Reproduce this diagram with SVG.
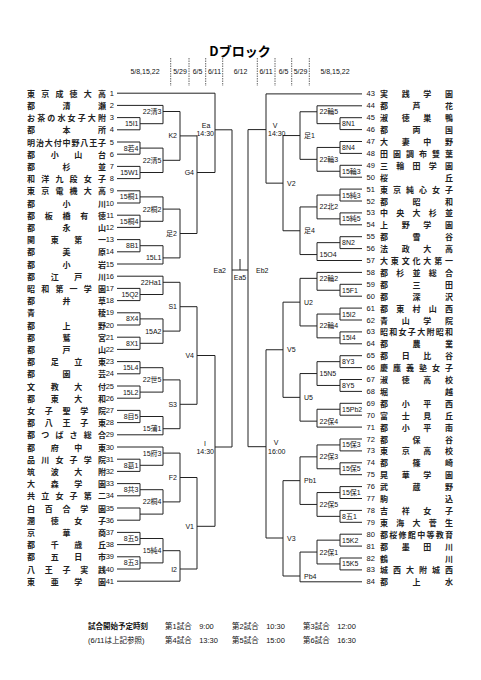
<svg xmlns="http://www.w3.org/2000/svg" width="481" height="680" viewBox="0 0 481 680">
<style>
text{dominant-baseline:central}
.nm{font-family:"Noto Sans CJK JP",sans-serif;font-size:8px;font-weight:bold;fill:#222}
.no{font-family:"Liberation Sans",Arial,sans-serif;font-size:7.5px;fill:#111}
.lb{font-family:"Liberation Sans","Noto Sans CJK JP",sans-serif;font-size:7px;fill:#111}
.ln{fill:none;stroke:#222;stroke-width:1}
.dl{fill:none;stroke:#666;stroke-width:1;stroke-dasharray:1.5 1}
.r{text-anchor:end}
.c{text-anchor:middle}
</style>
<rect width="481" height="680" fill="#fff"/>
<g id="header">
<text x="240" y="50" class="c" font-family="Noto Sans CJK JP,sans-serif" font-size="13" font-weight="bold">Dブロック</text>
<g class="lb">
<text x="145" y="71" class="c">5/8,15,22</text>
<text x="180" y="71" class="c">5/29</text>
<text x="197.5" y="71" class="c">6/5</text>
<text x="214.5" y="71" class="c">6/11</text>
<text x="240.5" y="71" class="c">6/12</text>
<text x="266" y="71" class="c">6/11</text>
<text x="283.5" y="71" class="c">6/5</text>
<text x="300.5" y="71" class="c">5/29</text>
<text x="335" y="71" class="c">5/8,15,22</text>
</g>
<path class="dl" d="M170.7 58V86M189 58V86M205.7 58V86M222.7 58V86M257.3 58V86M275 58V86M291.7 58V86M309.3 58V86"/>
</g>
<g id="connectors" class="ln">
<path d="M117 93.2H215M117 105.4H163M117 117.6H140V129.8H117M140 123.7H163M163 105.4V123.7M163 111.5H180"/>
<path d="M117 142H140V154.2H117M140 148.1H163M117 166.4H140V178.6H117M140 172.5H163M163 148.1V172.5M163 160.3H180M180 111.5V160.3M180 135.9H197"/>
<path d="M117 190.8H140V203H117M140 196.9H163M117 215.2H140V227.4H117M140 221.3H163M163 196.9V221.3M163 209.1H180"/>
<path d="M117 239.6H140V251.8H117M140 245.7H163M117 264H163M163 245.7V264M163 257.9H180M180 209.1V257.9M180 233.5H197M197 135.9V233.5M197 172.5H215M215 93.2V172.5M215 129.8H232"/>
<path d="M117 276.2H163M117 288.4H140V300.6H117M140 294.5H163M163 276.2V294.5M163 282.3H180"/>
<path d="M117 312.8H140V325H117M140 318.9H163M117 337.2H140V349.4H117M140 343.3H163M163 318.9V343.3M163 331.1H180M180 282.3V331.1M180 306.7H197"/>
<path d="M117 361.6H140V373.8H117M140 367.7H163M117 386H140V398.2H117M140 392.1H163M163 367.7V392.1M163 379.9H180"/>
<path d="M117 410.4H140V422.6H117M140 416.5H163M117 434.8H163M163 416.5V434.8M163 428.7H180M180 379.9V428.7M180 404.3H197M197 306.7V404.3M197 355.5H215"/>
<path d="M117 447H163M117 459.2H140V471.4H117M140 465.3H163M163 447V465.3M163 453.1H180"/>
<path d="M117 483.6H140V495.8H117M140 489.7H163M117 508H140V520.2H117M140 514.1H163M163 489.7V514.1M163 501.9H180M180 453.1V501.9M180 477.5H197"/>
<path d="M117 532.4H140V544.6H117M140 538.5H163M117 556.8H140V569H117M140 562.9H163M163 538.5V562.9M163 550.7H180M117 581.2H180M180 550.7V581.2M180 569H197M197 477.5V569M197 526.3H215M215 355.5V526.3M215 447H232"/>
<path d="M232 129.8V447M232 270H248M240 259V270M248 129.6V446.7"/>
<path d="M362 93.9H266M362 105.8H317M362 117.7H340V129.6H362M340 123.65H317M317 105.8V123.65M317 111.75H300"/>
<path d="M362 141.5H340V153.4H362M340 147.45H317M362 165.3H340V177.2H362M340 171.25H317M317 147.45V171.25M317 159.35H300M300 111.75V159.35M300 135.55H283"/>
<path d="M362 189.1H340V201H362M340 195.05H317M362 212.9H340V224.8H362M340 218.85H317M317 195.05V218.85M317 206.95H300"/>
<path d="M362 236.7H340V248.6H362M340 242.65H317M362 260.5H317M317 242.65V260.5M317 254.55H300M300 206.95V254.55M300 230.75H283M283 135.55V230.75M283 183.15H266M266 93.9V183.15M266 129.6H248"/>
<path d="M362 272.4H317M362 284.3H340V296.2H362M340 290.25H317M317 272.4V290.25M317 278.35H300"/>
<path d="M362 308.1H340V320H362M340 314.05H317M362 331.9H340V343.8H362M340 337.85H317M317 314.05V337.85M317 325.95H300M300 278.35V325.95M300 302.15H283"/>
<path d="M362 355.7H340V367.6H362M340 361.65H317M362 379.5H340V391.4H362M340 385.45H317M317 361.65V385.45M317 373.55H300"/>
<path d="M362 403.3H340V415.2H362M340 409.25H317M362 427.1H317M317 409.25V427.1M317 421.15H300M300 373.55V421.15M300 397.35H283M283 302.15V397.35M283 349.75H266"/>
<path d="M362 439H340V450.9H362M340 444.95H317M362 462.8H340V474.7H362M340 468.75H317M317 444.95V468.75M317 456.85H300"/>
<path d="M362 486.6H340V498.5H362M340 492.55H317M362 510.4H340V522.3H362M340 516.35H317M317 492.55V516.35M317 504.45H300M300 456.85V504.45M300 480.65H283"/>
<path d="M362 534.2H340V546.1H362M340 540.15H317M362 558H340V569.9H362M340 563.95H317M317 540.15V563.95M317 552.05H300M362 581.8H300M300 552.05V581.8M300 576H283M283 480.65V576M283 538H266M266 349.75V538M266 446.7H248"/>
</g>
<g id="labels" class="lb">
<g class="r">
<text x="138.5" y="123.7">15I1</text><text x="138.5" y="148.1">8若4</text><text x="138.5" y="172.5">15W1</text><text x="138.5" y="196.9">15桐1</text><text x="138.5" y="221.3">15桐4</text><text x="138.5" y="245.7">8B1</text><text x="138.5" y="294.5">15Q2</text><text x="138.5" y="318.9">8X4</text><text x="138.5" y="343.3">8X1</text><text x="138.5" y="367.7">15L4</text><text x="138.5" y="392.1">15L2</text><text x="138.5" y="416.5">8目5</text><text x="138.5" y="465.3">8葛1</text><text x="138.5" y="489.7">8共3</text><text x="138.5" y="538.5">8五5</text><text x="138.5" y="562.9">8五3</text>
<text x="161.5" y="111.5">22清3</text><text x="161.5" y="160.3">22清5</text><text x="161.5" y="209.1">22桐2</text><text x="161.5" y="257.9">15L1</text><text x="161.5" y="282.3">22Ha1</text><text x="161.5" y="331.1">15A2</text><text x="161.5" y="379.9">22世5</text><text x="161.5" y="428.7">15蒲1</text><text x="161.5" y="453.1">15府3</text><text x="161.5" y="501.9">22桐4</text><text x="161.5" y="550.7">15純4</text>
<text x="177" y="135.9">K2</text><text x="177" y="233.5">足2</text><text x="177" y="306.7">S1</text><text x="177" y="404.3">S3</text><text x="177" y="477.5">F2</text><text x="177" y="569">I2</text>
<text x="194" y="172.5">G4</text><text x="194" y="355.5">V4</text><text x="194" y="526.3">V1</text>
<text x="214" y="133.5">14:30</text><text x="214" y="451.5">14:30</text>
<text x="226" y="270">Ea2</text>
</g>
<text x="206" y="125" class="c">Ea</text><text x="205" y="443" class="c">I</text>
<text x="240" y="277" class="c">Ea5</text>
<text x="256" y="270">Eb2</text>
<text x="275" y="125" class="c">V</text><text x="268" y="133.5">14:30</text>
<text x="276" y="442" class="c">V</text><text x="268" y="451.5">16:00</text>
<text x="287" y="183.15">V2</text><text x="287" y="349.75">V5</text><text x="287" y="538">V3</text>
<text x="304" y="135.55">足1</text><text x="304" y="230.75">足4</text><text x="304" y="302.15">U2</text><text x="304" y="397.35">U5</text><text x="304" y="480.65">Pb1</text><text x="304" y="576">Pb4</text>
<text x="319.5" y="111.75">22輪5</text><text x="319.5" y="159.35">22輪3</text><text x="319.5" y="206.95">22北2</text><text x="319.5" y="254.55">15O4</text><text x="319.5" y="278.35">22輪2</text><text x="319.5" y="325.95">22輪4</text><text x="319.5" y="373.55">15N5</text><text x="319.5" y="421.15">22保4</text><text x="319.5" y="456.85">22保3</text><text x="319.5" y="504.45">22保5</text><text x="319.5" y="552.05">22保1</text>
<text x="342" y="123.65">8N1</text><text x="342" y="147.45">8N4</text><text x="342" y="171.25">15輪3</text><text x="342" y="195.05">15純3</text><text x="342" y="218.85">15純5</text><text x="342" y="242.65">8N2</text><text x="342" y="290.25">15F1</text><text x="342" y="314.05">15I2</text><text x="342" y="337.85">15I4</text><text x="342" y="361.65">8Y3</text><text x="342" y="385.45">8Y5</text><text x="342" y="409.25">15Pb2</text><text x="342" y="444.95">15保3</text><text x="342" y="468.75">15保5</text><text x="342" y="492.55">15保1</text><text x="342" y="516.35">8五1</text><text x="342" y="540.15">15K2</text><text x="342" y="563.95">15K5</text>
</g>
<g id="left-teams">
<g id="t1"><text class="nm" x="27" y="93.2" textLength="79" lengthAdjust="spacing">東京成徳大高</text><text class="no r" x="114" y="93.2">1</text></g>
<g id="t2"><text class="nm" x="27" y="105.4" textLength="79" lengthAdjust="spacing">都清瀬</text><text class="no r" x="114" y="105.4">2</text></g>
<g id="t3"><text class="nm" x="27" y="117.6" textLength="79" lengthAdjust="spacing">お茶の水女子大附</text><text class="no r" x="114" y="117.6">3</text></g>
<g id="t4"><text class="nm" x="27" y="129.8" textLength="79" lengthAdjust="spacing">都本所</text><text class="no r" x="114" y="129.8">4</text></g>
<g id="t5"><text class="nm" x="27" y="142" textLength="79" lengthAdjust="spacing">明治大付中野八王子</text><text class="no r" x="114" y="142">5</text></g>
<g id="t6"><text class="nm" x="27" y="154.2" textLength="79" lengthAdjust="spacing">都小山台</text><text class="no r" x="114" y="154.2">6</text></g>
<g id="t7"><text class="nm" x="27" y="166.4" textLength="79" lengthAdjust="spacing">都杉並</text><text class="no r" x="114" y="166.4">7</text></g>
<g id="t8"><text class="nm" x="27" y="178.6" textLength="79" lengthAdjust="spacing">和洋九段女子</text><text class="no r" x="114" y="178.6">8</text></g>
<g id="t9"><text class="nm" x="27" y="190.8" textLength="79" lengthAdjust="spacing">東京電機大高</text><text class="no r" x="114" y="190.8">9</text></g>
<g id="t10"><text class="nm" x="27" y="203" textLength="79" lengthAdjust="spacing">都小川</text><text class="no r" x="114" y="203">10</text></g>
<g id="t11"><text class="nm" x="27" y="215.2" textLength="79" lengthAdjust="spacing">都板橋有徳</text><text class="no r" x="114" y="215.2">11</text></g>
<g id="t12"><text class="nm" x="27" y="227.4" textLength="79" lengthAdjust="spacing">都永山</text><text class="no r" x="114" y="227.4">12</text></g>
<g id="t13"><text class="nm" x="27" y="239.6" textLength="79" lengthAdjust="spacing">関東第一</text><text class="no r" x="114" y="239.6">13</text></g>
<g id="t14"><text class="nm" x="27" y="251.8" textLength="79" lengthAdjust="spacing">都美原</text><text class="no r" x="114" y="251.8">14</text></g>
<g id="t15"><text class="nm" x="27" y="264" textLength="79" lengthAdjust="spacing">都小岩</text><text class="no r" x="114" y="264">15</text></g>
<g id="t16"><text class="nm" x="27" y="276.2" textLength="79" lengthAdjust="spacing">都江戸川</text><text class="no r" x="114" y="276.2">16</text></g>
<g id="t17"><text class="nm" x="27" y="288.4" textLength="79" lengthAdjust="spacing">昭和第一学園</text><text class="no r" x="114" y="288.4">17</text></g>
<g id="t18"><text class="nm" x="27" y="300.6" textLength="79" lengthAdjust="spacing">都井草</text><text class="no r" x="114" y="300.6">18</text></g>
<g id="t19"><text class="nm" x="27" y="312.8" textLength="79" lengthAdjust="spacing">青稜</text><text class="no r" x="114" y="312.8">19</text></g>
<g id="t20"><text class="nm" x="27" y="325" textLength="79" lengthAdjust="spacing">都上野</text><text class="no r" x="114" y="325">20</text></g>
<g id="t21"><text class="nm" x="27" y="337.2" textLength="79" lengthAdjust="spacing">都鷲宮</text><text class="no r" x="114" y="337.2">21</text></g>
<g id="t22"><text class="nm" x="27" y="349.4" textLength="79" lengthAdjust="spacing">都戸山</text><text class="no r" x="114" y="349.4">22</text></g>
<g id="t23"><text class="nm" x="27" y="361.6" textLength="79" lengthAdjust="spacing">都足立東</text><text class="no r" x="114" y="361.6">23</text></g>
<g id="t24"><text class="nm" x="27" y="373.8" textLength="79" lengthAdjust="spacing">都園芸</text><text class="no r" x="114" y="373.8">24</text></g>
<g id="t25"><text class="nm" x="27" y="386" textLength="79" lengthAdjust="spacing">文教大付</text><text class="no r" x="114" y="386">25</text></g>
<g id="t26"><text class="nm" x="27" y="398.2" textLength="79" lengthAdjust="spacing">都東大和</text><text class="no r" x="114" y="398.2">26</text></g>
<g id="t27"><text class="nm" x="27" y="410.4" textLength="79" lengthAdjust="spacing">女子聖学院</text><text class="no r" x="114" y="410.4">27</text></g>
<g id="t28"><text class="nm" x="27" y="422.6" textLength="79" lengthAdjust="spacing">都八王子東</text><text class="no r" x="114" y="422.6">28</text></g>
<g id="t29"><text class="nm" x="27" y="434.8" textLength="79" lengthAdjust="spacing">都つばさ総合</text><text class="no r" x="114" y="434.8">29</text></g>
<g id="t30"><text class="nm" x="27" y="447" textLength="79" lengthAdjust="spacing">都府中東</text><text class="no r" x="114" y="447">30</text></g>
<g id="t31"><text class="nm" x="27" y="459.2" textLength="79" lengthAdjust="spacing">品川女子学院</text><text class="no r" x="114" y="459.2">31</text></g>
<g id="t32"><text class="nm" x="27" y="471.4" textLength="79" lengthAdjust="spacing">筑波大附</text><text class="no r" x="114" y="471.4">32</text></g>
<g id="t33"><text class="nm" x="27" y="483.6" textLength="79" lengthAdjust="spacing">大森学園</text><text class="no r" x="114" y="483.6">33</text></g>
<g id="t34"><text class="nm" x="27" y="495.8" textLength="79" lengthAdjust="spacing">共立女子第二</text><text class="no r" x="114" y="495.8">34</text></g>
<g id="t35"><text class="nm" x="27" y="508" textLength="79" lengthAdjust="spacing">白百合学園</text><text class="no r" x="114" y="508">35</text></g>
<g id="t36"><text class="nm" x="27" y="520.2" textLength="79" lengthAdjust="spacing">潤徳女子</text><text class="no r" x="114" y="520.2">36</text></g>
<g id="t37"><text class="nm" x="27" y="532.4" textLength="79" lengthAdjust="spacing">京華商</text><text class="no r" x="114" y="532.4">37</text></g>
<g id="t38"><text class="nm" x="27" y="544.6" textLength="79" lengthAdjust="spacing">都千歳丘</text><text class="no r" x="114" y="544.6">38</text></g>
<g id="t39"><text class="nm" x="27" y="556.8" textLength="79" lengthAdjust="spacing">都五日市</text><text class="no r" x="114" y="556.8">39</text></g>
<g id="t40"><text class="nm" x="27" y="569" textLength="79" lengthAdjust="spacing">八王子実践</text><text class="no r" x="114" y="569">40</text></g>
<g id="t41"><text class="nm" x="27" y="581.2" textLength="79" lengthAdjust="spacing">東亜学園</text><text class="no r" x="114" y="581.2">41</text></g>
</g>
<g id="right-teams">
<g id="t43"><text class="no" x="366.5" y="93.9">43</text><text class="nm" x="380" y="93.9" textLength="73" lengthAdjust="spacing">実践学園</text></g>
<g id="t44"><text class="no" x="366.5" y="105.8">44</text><text class="nm" x="380" y="105.8" textLength="73" lengthAdjust="spacing">都芦花</text></g>
<g id="t45"><text class="no" x="366.5" y="117.7">45</text><text class="nm" x="380" y="117.7" textLength="73" lengthAdjust="spacing">淑徳巣鴨</text></g>
<g id="t46"><text class="no" x="366.5" y="129.6">46</text><text class="nm" x="380" y="129.6" textLength="73" lengthAdjust="spacing">都両国</text></g>
<g id="t47"><text class="no" x="366.5" y="141.5">47</text><text class="nm" x="380" y="141.5" textLength="73" lengthAdjust="spacing">大妻中野</text></g>
<g id="t48"><text class="no" x="366.5" y="153.4">48</text><text class="nm" x="380" y="153.4" textLength="73" lengthAdjust="spacing">田園調布雙葉</text></g>
<g id="t49"><text class="no" x="366.5" y="165.3">49</text><text class="nm" x="380" y="165.3" textLength="73" lengthAdjust="spacing">三輪田学園</text></g>
<g id="t50"><text class="no" x="366.5" y="177.2">50</text><text class="nm" x="380" y="177.2" textLength="73" lengthAdjust="spacing">桜丘</text></g>
<g id="t51"><text class="no" x="366.5" y="189.1">51</text><text class="nm" x="380" y="189.1" textLength="73" lengthAdjust="spacing">東京純心女子</text></g>
<g id="t52"><text class="no" x="366.5" y="201">52</text><text class="nm" x="380" y="201" textLength="73" lengthAdjust="spacing">都昭和</text></g>
<g id="t53"><text class="no" x="366.5" y="212.9">53</text><text class="nm" x="380" y="212.9" textLength="73" lengthAdjust="spacing">中央大杉並</text></g>
<g id="t54"><text class="no" x="366.5" y="224.8">54</text><text class="nm" x="380" y="224.8" textLength="73" lengthAdjust="spacing">上野学園</text></g>
<g id="t55"><text class="no" x="366.5" y="236.7">55</text><text class="nm" x="380" y="236.7" textLength="73" lengthAdjust="spacing">都雪谷</text></g>
<g id="t56"><text class="no" x="366.5" y="248.6">56</text><text class="nm" x="380" y="248.6" textLength="73" lengthAdjust="spacing">法政大高</text></g>
<g id="t57"><text class="no" x="366.5" y="260.5">57</text><text class="nm" x="380" y="260.5" textLength="73" lengthAdjust="spacing">大東文化大第一</text></g>
<g id="t58"><text class="no" x="366.5" y="272.4">58</text><text class="nm" x="380" y="272.4" textLength="73" lengthAdjust="spacing">都杉並総合</text></g>
<g id="t59"><text class="no" x="366.5" y="284.3">59</text><text class="nm" x="380" y="284.3" textLength="73" lengthAdjust="spacing">都三田</text></g>
<g id="t60"><text class="no" x="366.5" y="296.2">60</text><text class="nm" x="380" y="296.2" textLength="73" lengthAdjust="spacing">都深沢</text></g>
<g id="t61"><text class="no" x="366.5" y="308.1">61</text><text class="nm" x="380" y="308.1" textLength="73" lengthAdjust="spacing">都東村山西</text></g>
<g id="t62"><text class="no" x="366.5" y="320">62</text><text class="nm" x="380" y="320" textLength="73" lengthAdjust="spacing">青山学院</text></g>
<g id="t63"><text class="no" x="366.5" y="331.9">63</text><text class="nm" x="380" y="331.9" textLength="73" lengthAdjust="spacing">昭和女子大附昭和</text></g>
<g id="t64"><text class="no" x="366.5" y="343.8">64</text><text class="nm" x="380" y="343.8" textLength="73" lengthAdjust="spacing">都農業</text></g>
<g id="t65"><text class="no" x="366.5" y="355.7">65</text><text class="nm" x="380" y="355.7" textLength="73" lengthAdjust="spacing">都日比谷</text></g>
<g id="t66"><text class="no" x="366.5" y="367.6">66</text><text class="nm" x="380" y="367.6" textLength="73" lengthAdjust="spacing">慶應義塾女子</text></g>
<g id="t67"><text class="no" x="366.5" y="379.5">67</text><text class="nm" x="380" y="379.5" textLength="73" lengthAdjust="spacing">淑徳高校</text></g>
<g id="t68"><text class="no" x="366.5" y="391.4">68</text><text class="nm" x="380" y="391.4" textLength="73" lengthAdjust="spacing">堀越</text></g>
<g id="t69"><text class="no" x="366.5" y="403.3">69</text><text class="nm" x="380" y="403.3" textLength="73" lengthAdjust="spacing">都小平西</text></g>
<g id="t70"><text class="no" x="366.5" y="415.2">70</text><text class="nm" x="380" y="415.2" textLength="73" lengthAdjust="spacing">富士見丘</text></g>
<g id="t71"><text class="no" x="366.5" y="427.1">71</text><text class="nm" x="380" y="427.1" textLength="73" lengthAdjust="spacing">都小平南</text></g>
<g id="t72"><text class="no" x="366.5" y="439">72</text><text class="nm" x="380" y="439" textLength="73" lengthAdjust="spacing">都保谷</text></g>
<g id="t73"><text class="no" x="366.5" y="450.9">73</text><text class="nm" x="380" y="450.9" textLength="73" lengthAdjust="spacing">東京高校</text></g>
<g id="t74"><text class="no" x="366.5" y="462.8">74</text><text class="nm" x="380" y="462.8" textLength="73" lengthAdjust="spacing">都篠崎</text></g>
<g id="t75"><text class="no" x="366.5" y="474.7">75</text><text class="nm" x="380" y="474.7" textLength="73" lengthAdjust="spacing">晃華学園</text></g>
<g id="t76"><text class="no" x="366.5" y="486.6">76</text><text class="nm" x="380" y="486.6" textLength="73" lengthAdjust="spacing">武蔵野</text></g>
<g id="t77"><text class="no" x="366.5" y="498.5">77</text><text class="nm" x="380" y="498.5" textLength="73" lengthAdjust="spacing">駒込</text></g>
<g id="t78"><text class="no" x="366.5" y="510.4">78</text><text class="nm" x="380" y="510.4" textLength="73" lengthAdjust="spacing">吉祥女子</text></g>
<g id="t79"><text class="no" x="366.5" y="522.3">79</text><text class="nm" x="380" y="522.3" textLength="73" lengthAdjust="spacing">東海大菅生</text></g>
<g id="t80"><text class="no" x="366.5" y="534.2">80</text><text class="nm" x="380" y="534.2" textLength="73" lengthAdjust="spacing">都桜修館中等教育</text></g>
<g id="t81"><text class="no" x="366.5" y="546.1">81</text><text class="nm" x="380" y="546.1" textLength="73" lengthAdjust="spacing">都墨田川</text></g>
<g id="t82"><text class="no" x="366.5" y="558">82</text><text class="nm" x="380" y="558" textLength="73" lengthAdjust="spacing">鶴川</text></g>
<g id="t83"><text class="no" x="366.5" y="569.9">83</text><text class="nm" x="380" y="569.9" textLength="73" lengthAdjust="spacing">城西大附城西</text></g>
<g id="t84"><text class="no" x="366.5" y="581.8">84</text><text class="nm" x="380" y="581.8" textLength="73" lengthAdjust="spacing">都上水</text></g>
</g>
<g id="footer" font-family="Liberation Sans,Noto Sans CJK JP,sans-serif" font-size="7.5" fill="#111">
<text x="88" y="626" font-weight="bold">試合開始予定時刻</text>
<text x="165" y="626">第1試合　9:00</text>
<text x="232" y="626">第2試合　10:30</text>
<text x="303" y="626">第3試合　12:00</text>
<text x="88" y="640">(6/11は上記参照)</text>
<text x="165" y="640">第4試合　13:30</text>
<text x="232" y="640">第5試合　15:00</text>
<text x="303" y="640">第6試合　16:30</text>
</g>
</svg>
